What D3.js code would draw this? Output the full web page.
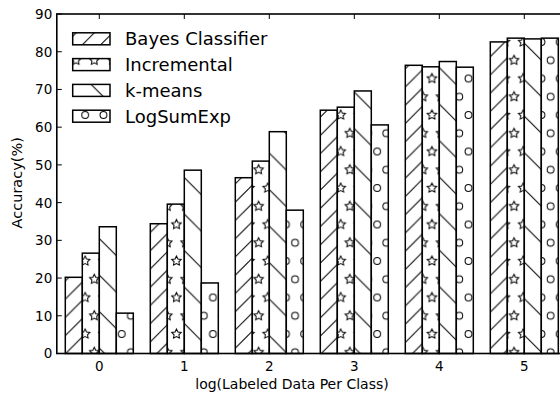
<!DOCTYPE html>
<html>
<head>
<meta charset="utf-8">
<script src="https://cdn.jsdelivr.net/npm/d3@7"></script>
<style>
  body { margin: 0; background: #fff; }
  svg { display: block; font-family: "DejaVu Sans", sans-serif; }
</style>
</head>
<body>
<div class="chart-div"></div>
<script>
// data
var categories = [0, 1, 2, 3, 4, 5];
var seriesNames = ["Bayes Classifier", "Incremental", "k-means", "LogSumExp"];
var bayes = [20.2, 34.4, 46.6, 64.5, 76.4, 82.6];
var incremental = [26.6, 39.6, 51.0, 65.3, 76.0, 83.6];
var kmeans = [33.6, 48.6, 58.8, 69.6, 77.4, 83.4];
var logSumExp = [10.7, 18.7, 38.0, 60.6, 75.9, 83.6];
var yTicks = [0, 10, 20, 30, 40, 50, 60, 70, 80, 90];
var hatches = ["fwd", "star", "back", "circ"];

var series = [bayes, incremental, kmeans, logSumExp];

var width = 560;
var height = 394;
var plotLeft = 56.8, plotTop = 14, plotBottom = 353.5, stepPx = 85;

var svg = d3.select(".chart-div")
    .append("svg")
        .attr("width", width)
        .attr("height", height);

var x = d3.scaleLinear().domain([-0.5, 5.5]).range([plotLeft, plotLeft + 6 * stepPx]);
var y = d3.scaleLinear().domain([0, 90]).range([plotBottom, plotTop]);
var barW = x(0.2) - x(0);

//hatch patterns, all on one global grid like matplotlib does
var cell = 18.25;
var tile = 2 * cell;
var gridX = 340.7, gridY = 115;
var defs = svg.append("defs");

function starPath(cx, cy, r) {
    var pts = [];
    for (var i = 0; i < 10; i++) {
        var rr = i % 2 == 0 ? r : r * 0.5;
        var a = -Math.PI / 2 + i * Math.PI / 5;
        pts.push([cx + rr * Math.cos(a), cy + rr * Math.sin(a)]);
    }
    return "M" + pts.map(function(p) { return p[0].toFixed(2) + "," + p[1].toFixed(2); }).join("L") + "Z";
}

//staggered grid spots inside one tile
var spots = [];
[0, cell, 2 * cell].forEach(function(px) {
    spots.push([px, 0]);
    spots.push([px, tile]);
});
spots.push([cell / 2, cell]);
spots.push([cell * 1.5, cell]);

hatches.forEach(function(h) {
    var pat = defs.append("pattern")
        .attr("id", "hatch-" + h)
        .attr("patternUnits", "userSpaceOnUse")
        .attr("x", gridX % tile)
        .attr("y", gridY % tile)
        .attr("width", tile)
        .attr("height", tile);
    pat.append("rect")
        .attr("width", tile)
        .attr("height", tile)
        .attr("fill", "#fff");
    if (h == "fwd") {
        //one "/" line every cell
        [0, 1, 2, 3, 4].forEach(function(k) {
            var c = k * cell;
            pat.append("line")
                .attr("x1", -cell).attr("y1", c + cell)
                .attr("x2", tile + cell).attr("y2", c - tile - cell)
                .attr("stroke", "#000")
                .attr("stroke-width", 1);
        });
    } else if (h == "back") {
        //"\" lines are twice as sparse in the reference
        [-tile, 0, tile].forEach(function(c) {
            pat.append("line")
                .attr("x1", -cell).attr("y1", c - cell)
                .attr("x2", tile + cell).attr("y2", c + tile + cell)
                .attr("stroke", "#000")
                .attr("stroke-width", 1);
        });
    } else if (h == "star") {
        spots.forEach(function(p) {
            pat.append("path")
                .attr("d", starPath(p[0], p[1], 5))
                .attr("fill", "none")
                .attr("stroke", "#000")
                .attr("stroke-width", 1);
        });
    } else {
        spots.forEach(function(p) {
            pat.append("circle")
                .attr("cx", p[0])
                .attr("cy", p[1])
                .attr("r", 3.4)
                .attr("fill", "none")
                .attr("stroke", "#000")
                .attr("stroke-width", 1);
        });
    }
});

//bars
var offsets = [-0.4, -0.2, 0, 0.2];
series.forEach(function(vals, s) {
    svg.append("g").selectAll("rect")
        .data(vals)
        .enter().append("rect")
            .attr("x", function(d, i) { return x(categories[i] + offsets[s]); })
            .attr("y", function(d) { return y(d); })
            .attr("width", barW)
            .attr("height", function(d) { return y(0) - y(d); })
            .attr("fill", "url(#hatch-" + hatches[s] + ")")
            .attr("stroke", "#000")
            .attr("stroke-width", 1.5);
});

//axes frame and ticks
var axisG = svg.append("g");
axisG.append("rect")
    .attr("x", x(-0.5))
    .attr("y", y(90))
    .attr("width", x(5.5) - x(-0.5))
    .attr("height", y(0) - y(90))
    .attr("fill", "none")
    .attr("stroke", "#000")
    .attr("stroke-width", 1.6);

yTicks.forEach(function(t) {
    axisG.append("line")
        .attr("x1", x(-0.5)).attr("x2", x(-0.5) + 5)
        .attr("y1", y(t)).attr("y2", y(t))
        .attr("stroke", "#000");
    axisG.append("text")
        .attr("x", x(-0.5) - 4.5)
        .attr("y", y(t) + 4.9)
        .attr("text-anchor", "end")
        .attr("font-size", "13.5px")
        .text(t);
});

categories.forEach(function(c) {
    axisG.append("line")
        .attr("x1", x(c)).attr("x2", x(c))
        .attr("y1", y(90)).attr("y2", y(90) + 5)
        .attr("stroke", "#000");
    axisG.append("line")
        .attr("x1", x(c)).attr("x2", x(c))
        .attr("y1", y(0)).attr("y2", y(0) - 5)
        .attr("stroke", "#000");
    axisG.append("text")
        .attr("x", x(c))
        .attr("y", 371)
        .attr("text-anchor", "middle")
        .attr("font-size", "13.5px")
        .text(c);
});

//axis titles
svg.append("text")
    .attr("x", 292)
    .attr("y", 389)
    .attr("text-anchor", "middle")
    .attr("font-size", "14px")
    .text("log(Labeled Data Per Class)");
svg.append("text")
    .attr("transform", "translate(22," + ((plotTop + plotBottom) / 2 - 1) + ") rotate(-90)")
    .attr("text-anchor", "middle")
    .attr("font-size", "14.5px")
    .text("Accuracy(%)");

//legend, no frame
var legend = svg.append("g");
var legendRows = [38.8, 64.6, 90.4, 116.2];
seriesNames.forEach(function(name, s) {
    legend.append("rect")
        .attr("x", 72.7)
        .attr("y", legendRows[s] - 6)
        .attr("width", 37.3)
        .attr("height", 12)
        .attr("fill", "url(#hatch-" + hatches[s] + ")")
        .attr("stroke", "#000")
        .attr("stroke-width", 1.5);
    legend.append("text")
        .attr("x", 125)
        .attr("y", legendRows[s] + 6.5)
        .attr("font-size", "18px")
        .text(name);
});
</script>
</body>
</html>
